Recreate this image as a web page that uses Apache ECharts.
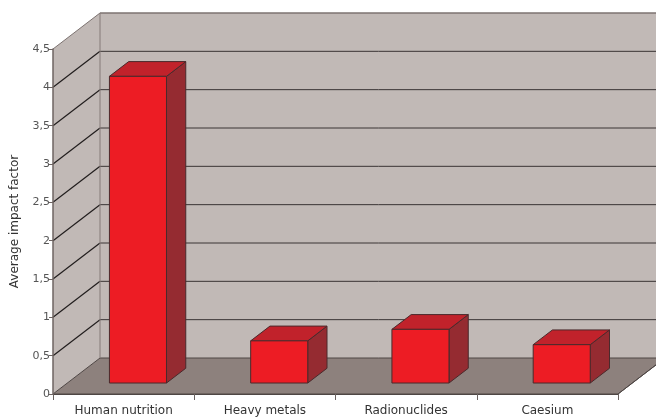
<!DOCTYPE html>
<html>
<head>
<meta charset="utf-8">
<script src="https://cdn.jsdelivr.net/npm/echarts@6/dist/echarts.min.js"></script>
<style>html,body{margin:0;padding:0;background:#fff}#c{width:656px;height:418px}</style>
</head>
<body>
<div id="c"></div>
<script>
var categories = ['Human nutrition', 'Heavy metals', 'Radionuclides', 'Caesium'];
var impactValues = [4.0, 0.55, 0.70, 0.50];
var yTicks = [0, 0.5, 1, 1.5, 2, 2.5, 3, 3.5, 4, 4.5];

var DEPTH = [47, -36];        // pixel depth vector of the 3D scene
var BAR_FRONT = 0.305;        // bar front face depth fraction
var BAR_DEPTH = 0.41;         // bar depth fraction
var BAR_WIDTH = 0.404;        // fraction of band

var chart = echarts.init(document.getElementById('c'), null, {renderer: 'canvas'});
var yMax = yTicks[yTicks.length - 1];

function bgRender(params, api) {
  var n = categories.length;
  var band = api.size([1, 0])[0];
  var x0 = api.coord([0, 0])[0] - band / 2;
  var xR = api.coord([n - 1, 0])[0] + band / 2;
  var y0 = api.coord([0, 0])[1];
  var yT = api.coord([0, yMax])[1];
  var dx = DEPTH[0], dy = DEPTH[1];
  var ch = [];
  ch.push({type: 'polygon', shape: {points: [[x0 + dx, yT + dy], [xR + dx + 40, yT + dy], [xR + dx + 40, y0 + dy], [x0 + dx, y0 + dy]]},
    style: {fill: '#c1b9b6', stroke: null}});
  ch.push({type: 'polygon', shape: {points: [[x0, y0], [x0, yT], [x0 + dx, yT + dy], [x0 + dx, y0 + dy]]},
    style: {fill: '#c1b9b6', stroke: null}});
  ch.push({type: 'polygon', shape: {points: [[x0, y0], [xR, y0], [xR + dx, y0 + dy], [x0 + dx, y0 + dy]]},
    style: {fill: '#8d817d', stroke: '#4e4644', lineWidth: 1}});
  for (var i = 1; i < yTicks.length - 1; i++) {
    var y = api.coord([0, yTicks[i]])[1];
    ch.push({type: 'line', shape: {x1: x0, y1: y, x2: x0 + dx, y2: y + dy}, style: {stroke: '#221e1e', lineWidth: 1.2}});
    ch.push({type: 'line', shape: {x1: x0 + dx, y1: y + dy, x2: xR + dx + 40, y2: y + dy}, style: {stroke: '#3a3434', lineWidth: 1}});
  }
  ch.push({type: 'line', shape: {x1: x0, y1: yT, x2: x0 + dx, y2: yT + dy}, style: {stroke: '#7d7371', lineWidth: 1}});
  ch.push({type: 'line', shape: {x1: x0 + dx, y1: yT + dy, x2: xR + dx + 40, y2: yT + dy}, style: {stroke: '#7d7371', lineWidth: 1.5}});
  ch.push({type: 'line', shape: {x1: x0 + dx, y1: yT + dy, x2: x0 + dx, y2: y0 + dy}, style: {stroke: '#857b79', lineWidth: 1}});
  ch.push({type: 'line', shape: {x1: xR, y1: y0, x2: xR + dx, y2: y0 + dy}, style: {stroke: '#4e4644', lineWidth: 1}});
  return {type: 'group', children: ch};
}

function barRender(params, api) {
  var idx = api.value(0);
  var v = api.value(1);
  var band = api.size([1, 0])[0];
  var base = api.coord([idx, 0]);
  var top = api.coord([idx, v]);
  var w = band * BAR_WIDTH;
  var fx = base[0] - w / 2 + DEPTH[0] * BAR_FRONT;
  var fb = base[1] + DEPTH[1] * BAR_FRONT;
  var ft = top[1] + DEPTH[1] * BAR_FRONT;
  var bdx = DEPTH[0] * BAR_DEPTH, bdy = DEPTH[1] * BAR_DEPTH;
  var edge = '#4a2a2c';
  return {type: 'group', children: [
    {type: 'polygon', shape: {points: [[fx + w, ft], [fx + w + bdx, ft + bdy], [fx + w + bdx, fb + bdy], [fx + w, fb]]},
      style: {fill: '#952b31', stroke: edge, lineWidth: 1}},
    {type: 'polygon', shape: {points: [[fx, ft], [fx + w, ft], [fx + w + bdx, ft + bdy], [fx + bdx, ft + bdy]]},
      style: {fill: '#c1222b', stroke: edge, lineWidth: 1}},
    {type: 'rect', shape: {x: fx, y: ft, width: w, height: fb - ft},
      style: {fill: '#ed1c24', stroke: edge, lineWidth: 1}}
  ]};
}

var barData = impactValues.map(function (v, i) { return [i, v]; });

chart.setOption({
  animation: false,
  backgroundColor: '#ffffff',
  grid: {left: 53, right: 38, top: 49, bottom: 24, containLabel: false},
  xAxis: {
    type: 'category',
    data: categories,
    boundaryGap: true,
    z: 5,
    axisLine: {show: true, lineStyle: {color: '#4e4644', width: 1}},
    axisTick: {show: true, alignWithLabel: false, length: 6, lineStyle: {color: '#6a6260'}},
    axisLabel: {margin: 11, fontFamily: 'DejaVu Sans', fontSize: 12, color: '#333333'},
    splitLine: {show: false}
  },
  yAxis: {
    type: 'value',
    min: 0, max: yMax, interval: 0.5,
    z: 5,
    name: 'Average impact factor',
    nameLocation: 'middle',
    nameRotate: 90,
    nameGap: 32,
    nameTextStyle: {fontFamily: 'DejaVu Sans', fontSize: 12, color: '#333333'},
    axisLine: {show: true, lineStyle: {color: '#6e6462', width: 1.5}},
    axisTick: {show: true, length: 4, lineStyle: {color: '#6e6462'}},
    axisLabel: {margin: 3, fontFamily: 'DejaVu Sans', fontSize: 11, color: '#555555',
      formatter: function (v) { return String(v).replace('.', ','); }},
    splitLine: {show: false}
  },
  series: [
    {type: 'custom', z: -5, clip: false, silent: true, renderItem: bgRender, data: [[0, 0]]},
    {type: 'custom', z: 3, clip: false, renderItem: barRender, data: barData}
  ]
});
</script>
</body>
</html>
